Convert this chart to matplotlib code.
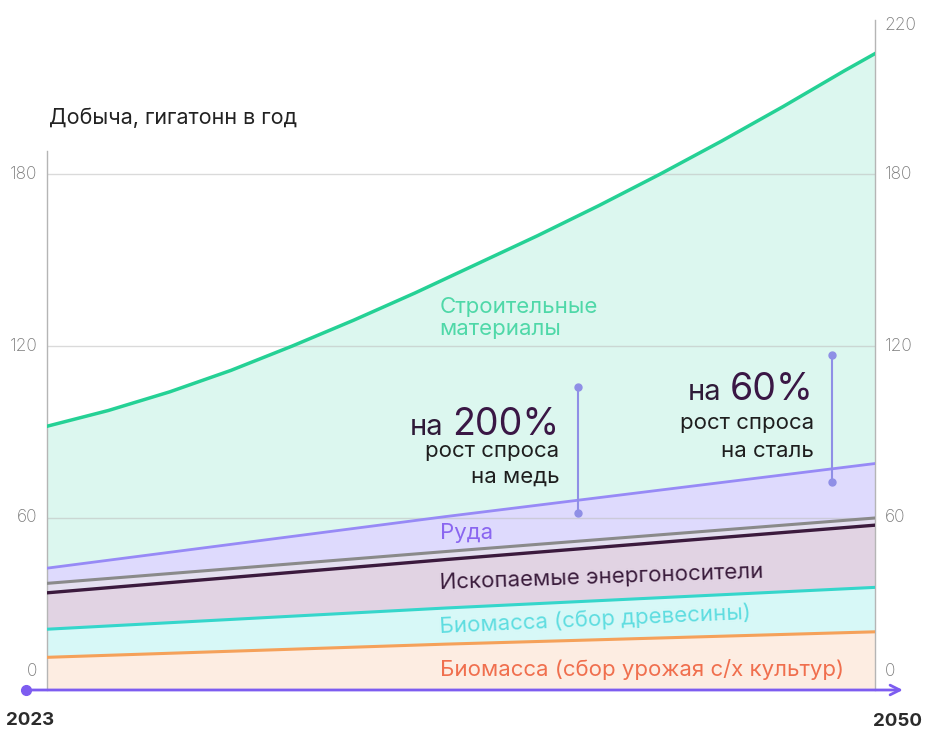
import matplotlib
matplotlib.use('Agg')
import matplotlib.pyplot as plt

plt.rcParams['font.family'] = ['Inter', 'DejaVu Sans']

# data (cumulative upper edges of each stacked layer, Gt per year)
years_build = [2023, 2025, 2027, 2029, 2031, 2033, 2035, 2037, 2039, 2041,
               2043, 2045, 2047, 2049, 2050]
build_top = [92, 97.5, 104, 111.5, 120, 129, 138.5, 148.5, 158.5, 169,
             180, 191.5, 203.5, 216, 222]

years = [2023, 2036, 2050]
ore_top = [42.5, 60.5, 79]
other_top = [37.2, 48.3, 60]
fossil_top = [33.9, 45.5, 57.5]
wood_top = [21.2, 28.6, 35.8]
crop_top = [11.4, 16.0, 20.3]

left_ticks = [0, 60, 120, 180]
right_ticks = [0, 60, 120, 180]

# vertical markers for copper and steel demand
copper_x, copper_y = 2040.3, [61.7, 105.8]
steel_x, steel_y = 2048.6, [72.7, 116.9]

px = 172 / 60  # pixels per unit
ytop = 670 / px

fig = plt.figure(figsize=(9.26, 7.33), dpi=100)
ax = fig.add_axes([47 / 926, 43 / 733, 828 / 926, 670 / 733])
ax.set_xlim(2023, 2050)
ax.set_ylim(0, ytop)


def band(x1, top, x2, bot, color):
    ax.fill(list(x1) + list(x2)[::-1], list(top) + list(bot)[::-1],
            color=color, lw=0, zorder=1)


band(years, crop_top, [2023, 2050], [0, 0], '#fdede2')
band(years, wood_top, years, crop_top, '#d7f8f7')
band(years, fossil_top, years, wood_top, '#e1d3e3')
band(years, other_top, years, fossil_top, '#e4dff0')
band(years, ore_top, years, other_top, '#dedafd')
band(years_build, build_top, years, ore_top, '#dcf7ef')

# grid lines
for v in [60, 120, 180]:
    ax.axhline(v, color='#bdbdbd', lw=1, alpha=0.55, zorder=2)

ax.plot(years_build, build_top, color='#25d195', lw=2.5, zorder=4)
ax.plot(years, ore_top, color='#978af6', lw=2, zorder=4)
ax.plot(years, other_top, color='#8a8a8a', lw=2.2, zorder=4)
ax.plot(years, fossil_top, color='#3b1a3d', lw=2.4, zorder=4)
ax.plot(years, wood_top, color='#35d6cb', lw=2.2, zorder=4)
ax.plot(years, crop_top, color='#f5a15a', lw=2.2, zorder=4)

# spines
for s in ['top', 'bottom', 'left', 'right']:
    ax.spines[s].set_visible(False)
ax.plot([2023, 2023], [0, 188], color='#b5b5b5', lw=1, zorder=3, clip_on=False)
ax.plot([2050, 2050], [0, ytop], color='#b5b5b5', lw=1, zorder=3, clip_on=False)
ax.set_xticks([])
ax.set_yticks([])

for v in left_ticks:
    ax.annotate(str(v), (2023, v), xytext=(-7, 13 if v == 0 else 0),
                textcoords='offset points', ha='right', va='center',
                fontsize=12.5, color='#7a7a7a', fontweight='light')
for v in right_ticks:
    ax.annotate(str(v), (2050, v), xytext=(7, 13 if v == 0 else 0),
                textcoords='offset points', ha='left', va='center',
                fontsize=12.5, color='#7a7a7a', fontweight='light')
ax.annotate('220', (2050, ytop - 2), xytext=(7, 0), textcoords='offset points',
            ha='left', va='center', fontsize=12.5, color='#7a7a7a',
            fontweight='light')

# x axis arrow
ax.annotate('', xy=(2051.0, 0), xytext=(2022.3, 0),
            arrowprops=dict(arrowstyle='->,head_length=0.7,head_width=0.35',
                            color='#7d5cf0', lw=2),
            annotation_clip=False, zorder=5)
ax.plot([2022.3], [0], 'o', color='#7d5cf0', ms=7, clip_on=False, zorder=5)
ax.annotate('2023', (2023, 0), xytext=(-12, -22), textcoords='offset points',
            ha='center', va='center', fontsize=13.5, fontweight='bold', color='#2b2b2b')
ax.annotate('2050', (2050, 0), xytext=(16, -23), textcoords='offset points',
            ha='center', va='center', fontsize=13.5, fontweight='bold', color='#2b2b2b')

ax.text(2023.05, 199.5, 'Добыча, гигатонн в год', fontsize=15.5, color='#222222',
        ha='left', va='center')

# layer labels
lab = 16
ax.text(2035.8, 129.8, 'Строительные\nматериалы', fontsize=lab, color='#4fd8a8',
        ha='left', va='center', linespacing=1.1, zorder=6)
ax.text(2035.8, 54.8, 'Руда', fontsize=lab, color='#8a66f0', ha='left',
        va='center', zorder=6)
ax.text(2035.8, 39.2, 'Ископаемые энергоносители', fontsize=lab, color='#3a1c3c',
        ha='left', va='center', rotation=2, zorder=6)
ax.text(2035.8, 24.4, 'Биомасса (сбор древесины)', fontsize=lab, color='#5fdde0',
        ha='left', va='center', rotation=2.6, zorder=6)
ax.text(2035.8, 7.0, 'Биомасса (сбор урожая с/х культур)', fontsize=lab,
        color='#f06f4e', ha='left', va='center', zorder=6)

# demand markers
for xm, ym in [(copper_x, copper_y), (steel_x, steel_y)]:
    ax.plot([xm, xm], ym, color='#8f8fe6', lw=1.5, zorder=5)
    ax.plot([xm, xm], ym, 'o', color='#8f8fe6', ms=5, zorder=5)

dark = '#2e1a38'
txt = '#1e1e1e'
renderer = fig.canvas.get_renderer()


def big_label(x, y, num):
    t = ax.text(x, y, num, fontsize=27, color='#3a1745', ha='right',
                va='baseline', zorder=6)
    w = t.get_window_extent(renderer).width * 72 / fig.dpi
    ax.annotate('на', (x, y), xytext=(-w - 6, 0), textcoords='offset points',
                fontsize=21, color=dark, ha='right', va='baseline', zorder=6)


big_label(2039.7, 89.0, '200%')
ax.text(2039.7, 81.4, 'рост спроса', fontsize=lab, color=txt, ha='right',
        va='baseline', zorder=6)
ax.text(2039.7, 72.2, 'на медь', fontsize=lab, color=txt, ha='right',
        va='baseline', zorder=6)

big_label(2048.0, 101.0, '60%')
ax.text(2048.0, 90.9, 'рост спроса', fontsize=lab, color=txt, ha='right',
        va='baseline', zorder=6)
ax.text(2048.0, 81.4, 'на сталь', fontsize=lab, color=txt, ha='right',
        va='baseline', zorder=6)

fig.savefig('out.png', dpi=100)
